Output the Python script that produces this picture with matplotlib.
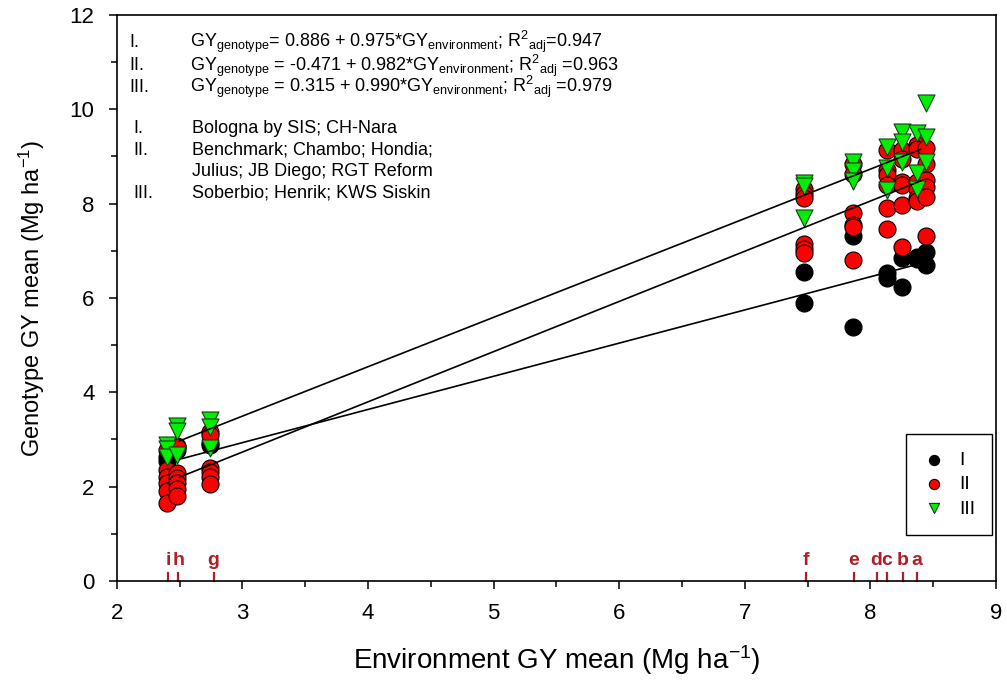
import matplotlib
matplotlib.use("Agg")
import matplotlib.pyplot as plt
from matplotlib.ticker import MultipleLocator

plt.rcParams['font.family'] = ['Liberation Sans', 'DejaVu Sans']
plt.rcParams['mathtext.fontset'] = 'custom'
plt.rcParams['mathtext.rm'] = 'Liberation Sans'
plt.rcParams['mathtext.it'] = 'Liberation Sans:italic'

# environment means (x position of each column of points)
env_x = [2.40, 2.48, 2.74, 7.47, 7.86, 8.13, 8.25, 8.37, 8.44]

# genotype means per environment, by group
group_I = [[2.62, 2.55], [2.85, 2.78], [2.93, 2.88], [6.55, 5.89], [7.31, 5.38],
           [6.52, 6.42], [6.84, 6.23], [6.86, 6.82], [6.97, 6.70]]
group_II = [[2.78, 2.35, 2.20, 2.07, 1.91, 1.65],
            [2.84, 2.29, 2.18, 2.07, 1.95, 1.80],
            [3.15, 3.09, 2.39, 2.30, 2.20, 2.05],
            [8.30, 8.20, 8.11, 7.14, 7.04, 6.95],
            [8.85, 8.62, 7.80, 7.54, 7.50, 6.80],
            [9.13, 8.71, 8.60, 8.39, 7.90, 7.46],
            [9.13, 8.95, 8.45, 8.40, 7.97, 7.08],
            [9.24, 9.15, 8.45, 8.30, 8.11, 8.05],
            [9.17, 8.85, 8.50, 8.35, 8.14, 7.31]]
group_III = [[2.88, 2.80, 2.63], [3.28, 3.18, 2.67], [3.41, 3.27, 2.82],
             [8.43, 8.38, 7.69], [8.88, 8.70, 8.47], [9.19, 8.75, 8.28],
             [9.51, 9.30, 8.88], [9.49, 8.64, 8.30], [10.13, 9.41, 8.88]]

# fitted lines as drawn (start / end)
line_x = [2.50, 8.40]
line_I = [2.58, 6.73]
line_II = [2.20, 8.48]
line_III = [2.97, 9.15]

# environment letters on the x axis
letter_x = [2.41, 2.49, 2.77, 7.49, 7.87, 8.05, 8.13, 8.26, 8.37]
letters = ['i', 'h', 'g', 'f', 'e', 'd', 'c', 'b', 'a']

equations = [
    r'GY$_{\rm genotype}$= 0.886 + 0.975*GY$_{\rm environment}$; R$^{2}$$_{\rm adj}$=0.947',
    r'GY$_{\rm genotype}$ = -0.471 + 0.982*GY$_{\rm environment}$; R$^{2}$$_{\rm adj}$ =0.963',
    r'GY$_{\rm genotype}$ = 0.315 + 0.990*GY$_{\rm environment}$; R$^{2}$$_{\rm adj}$ =0.979',
]
group_names = ['I.', 'II.', 'III.']
genotype_lines = ['Bologna by SIS; CH-Nara', 'Benchmark; Chambo; Hondia;',
                  'Julius; JB Diego; RGT Reform', 'Soberbio; Henrik; KWS Siskin']
genotype_marks = ['I.', 'II.', '', 'III.']


def flatten(groups):
    xs, ys = [], []
    for x, vals in zip(env_x, groups):
        for v in vals:
            xs.append(x)
            ys.append(v)
    return xs, ys


fig, ax = plt.subplots(figsize=(10.07, 6.81), dpi=100)
fig.subplots_adjust(left=0.116, right=0.989, bottom=0.147, top=0.978)

xs, ys = flatten(group_I)
ax.scatter(xs, ys, s=150, c='black', edgecolors='black', linewidths=0.8, zorder=3, label='I')
xs, ys = flatten(group_II)
ax.scatter(xs, ys, s=150, c='#ff0000', edgecolors='black', linewidths=0.8, zorder=4, label='II')
xs, ys = flatten(group_III)
ax.scatter(xs, ys, s=150, marker='v', c='#00ee00', edgecolors='#1a3a1a', linewidths=0.8,
           zorder=5, label='III')

for ly in (line_I, line_II, line_III):
    ax.plot(line_x, ly, color='black', lw=1.2, zorder=6)

for x, t in zip(letter_x, letters):
    ax.plot([x, x], [0, 0.17], color='#b01e2a', lw=1.6, zorder=2, clip_on=False)
    ax.text(x, 0.25, t, color='#b01e2a', fontsize=14, fontweight='bold',
            ha='center', va='bottom')

eq_y = [11.42, 10.93, 10.47]
for y, g, eq in zip(eq_y, group_names, equations):
    ax.text(2.10, y, g, fontsize=13, va='center')
    ax.text(2.58, y, eq, fontsize=13, va='center')

gen_y = [9.60, 9.13, 8.69, 8.22]
for y, g, t in zip(gen_y, genotype_marks, genotype_lines):
    ax.text(2.13, y, g, fontsize=13, va='center')
    ax.text(2.60, y, t, fontsize=13, va='center')

ax.set_xlim(2, 9)
ax.set_ylim(0, 12)
ax.xaxis.set_major_locator(MultipleLocator(1))
ax.xaxis.set_minor_locator(MultipleLocator(0.5))
ax.yaxis.set_major_locator(MultipleLocator(2))
ax.yaxis.set_minor_locator(MultipleLocator(1))
ax.tick_params(which='major', direction='out', length=6, width=1.1, labelsize=16, pad=10)
ax.tick_params(which='minor', direction='out', length=4, width=1.1)
for sp in ax.spines.values():
    sp.set_linewidth(1.2)

ax.set_xlabel(r'Environment GY mean (Mg ha$^{-1}$)', fontsize=20, labelpad=14)
ax.set_ylabel(r'Genotype GY mean (Mg ha$^{-1}$)', fontsize=17, labelpad=16)

leg = ax.legend(loc='lower right', bbox_to_anchor=(0.996, 0.081), borderaxespad=0,
                fontsize=14, fancybox=False, framealpha=1, edgecolor='black',
                markerscale=0.6, handletextpad=0.8, borderpad=0.9, labelspacing=0.35,
                handlelength=1.0)
leg.get_frame().set_linewidth(1.0)

fig.savefig('out.png', dpi=100)
